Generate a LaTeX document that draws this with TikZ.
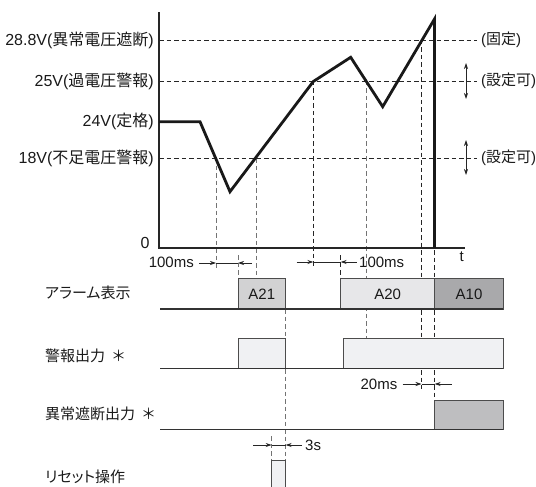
\documentclass[tikz,border=0pt]{standalone}
\usepackage{fontspec}
\setmainfont{Liberation Sans}
\newfontfamily\jp{Noto Sans CJK JP}
\newfontfamily\jpk[RawFeature=+palt]{Noto Sans CJK JP}
\usetikzlibrary{arrows.meta}
\definecolor{fA21}{HTML}{D2D2D3}
\definecolor{fA20}{HTML}{E7E7E9}
\definecolor{fA10}{HTML}{A9A9AB}
\definecolor{fOut}{HTML}{F0F1F3}
\definecolor{fTrip}{HTML}{BEBEC0}
\tikzset{
  lvl/.style={dash pattern=on 4.5pt off 3pt, draw=black!85, line width=0.8pt},
  extg/.style={dash pattern=on 4.5pt off 3pt, draw=black!55, line width=0.9pt},
  extd/.style={dash pattern=on 4.5pt off 3pt, draw=black!85, line width=0.8pt},
  wave/.style={line width=2.8pt, draw=black!90, line join=miter},
  axisline/.style={line width=1.3pt, draw=black!85},
  baseline/.style={line width=1.4pt, draw=black!80},
  sigbox/.style={draw=black!70, line width=0.8pt},
  dimarrow/.style={-{Stealth[length=6pt,width=4pt]}, line width=0.7pt, draw=black!85},
  dimline/.style={line width=0.7pt, draw=black!85},
  dblarrow/.style={{Stealth[length=6pt,width=4pt]}-{Stealth[length=6pt,width=4pt]}, line width=0.7pt, draw=black!85},
  lab/.style={font=\fontsize{15}{18}\selectfont, inner sep=0pt, text=black!90},
  biglab/.style={lab, font=\fontsize{16}{19}\selectfont},
}
\begin{document}
\begin{tikzpicture}[x=1pt,y=-1pt]
\useasboundingbox (0,0) rectangle (536,487);
% level lines
\draw[lvl] (159,40) -- (477,40);
\draw[lvl] (159,81) -- (477,81);
\draw[lvl] (159,158) -- (477,158);
% extension lines
\draw[extg] (216,158) -- (216,268);
\draw[extg] (256,158) -- (256,278);
\draw[extg] (238,255) -- (238,278);
\draw[extd] (313.3,81) -- (313.3,268);
\draw[extd] (340.7,255) -- (340.7,278);
\draw[extg] (366.5,81) -- (366.5,338);
\draw[extd] (421.5,40) -- (421.5,389);
\draw[extd] (434.7,250) -- (434.7,401);
\draw[extg] (285.7,309) -- (285.7,460);
\draw[extg] (271.7,436) -- (271.7,460);
% axes
\draw[axisline] (159,12.5) -- (159,248) -- (465,248);
% waveform
\draw[wave] (159,121.7) -- (200,121.7) -- (230,191.7) -- (313.3,81.5) -- (350.7,57.3) -- (382.7,106.7) -- (434.5,19) -- (434.5,248);
% adjustable arrows
\draw[dblarrow] (466,63) -- (466,99);
\draw[dblarrow] (466,140) -- (466,175);
% left labels
\node[biglab, anchor=east] (l288) at (154,40) {28.8V({\jp 異常電圧遮断})};
\node[biglab, anchor=east] (l25) at (154,81) {25V({\jp 過電圧警報})};
\node[biglab, anchor=east] (l24) at (154,121.7) {24V({\jp 定格})};
\node[biglab, anchor=east] (l18) at (154,158) {18V({\jp 不足電圧警報})};
\node[biglab] (l0) at (145,243) {0};
\node[lab] (lt) at (461.7,257) {t};
% right labels
\node[lab, anchor=west] (r1) at (481,40) {({\jp 固定})};
\node[lab, anchor=west] (r2) at (481,81) {({\jp 設定可})};
\node[lab, anchor=west] (r3) at (481,158) {({\jp 設定可})};
% 100ms dims
\draw[dimarrow] (199,263) -- (216,263);
\draw[dimline] (216,263) -- (238,263);
\draw[dimarrow] (252,263) -- (238,263);
\node[lab, anchor=east] (d1) at (194,262.5) {100ms};
\draw[dimarrow] (296.7,262) -- (313.3,262);
\draw[dimline] (313.3,262) -- (340.7,262);
\draw[dimarrow] (356.7,262) -- (340.7,262);
\node[lab, anchor=west] (d2) at (359,262) {100ms};
% 20ms
\draw[dimarrow] (402.7,384) -- (421.5,384);
\draw[dimline] (421.5,384) -- (434.7,384);
\draw[dimarrow] (451.7,384) -- (434.7,384);
\node[lab, anchor=east] (d3) at (397.5,384) {20ms};
% 3s
\draw[dimarrow] (253.3,445) -- (271.7,445);
\draw[dimline] (271.7,445) -- (285.7,445);
\draw[dimarrow] (302,445) -- (285.7,445);
\node[lab, anchor=west] (d4) at (305,445) {3s};
% alarm display row
\draw[sigbox, fill=fA21] (238,278) rectangle (285.7,309);
\draw[sigbox, fill=fA20] (340.7,278) rectangle (434.7,309);
\draw[sigbox, fill=fA10] (434.7,278) rectangle (503.3,309);
\node[lab] (a21) at (261.8,294) {A21};
\node[lab] (a20) at (387.7,294) {A20};
\node[lab] (a10) at (469,294) {A10};
\draw[baseline] (160,309) -- (503.3,309);
% alarm output row
\draw[sigbox, fill=fOut] (238,338.3) rectangle (285.7,368.3);
\draw[sigbox, fill=fOut] (343.3,338.3) rectangle (503.3,368.3);
\draw[baseline] (160,368.3) -- (503.3,368.3);
% trip output row
\draw[sigbox, fill=fTrip] (434,400.7) rectangle (503.3,429.3);
\draw[baseline] (160,429.3) -- (503.3,429.3);
% reset pulse
\draw[sigbox, fill=fOut] (271.7,490) -- (271.7,460) -- (285.7,460) -- (285.7,490);
% row labels
\node[lab, anchor=west] (rw1) at (45,293) {\jpk アラーム表示};
\node[lab, anchor=west] (rw2) at (45,356) {\jp 警報出力\hspace{6pt}＊};
\node[lab, anchor=west] (rw3) at (45,414.3) {\jp 異常遮断出力\hspace{6pt}＊};
\node[lab, anchor=west] (rw4) at (45,476.7) {\jpk リセット操作};
\end{tikzpicture}
\end{document}
